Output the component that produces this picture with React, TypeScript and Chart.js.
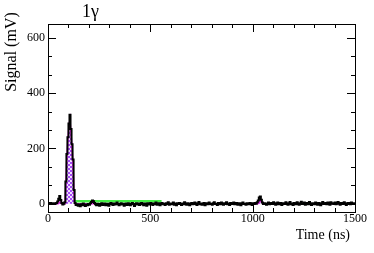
import React, { useEffect, useRef } from "react";
import { Chart, registerables } from "chart.js";

Chart.register(...registerables);

const TITLE = "1γ";
const X_TITLE = "Time (ns)";
const Y_TITLE = "Signal (mV)";
const X_MIN = 0;
const X_MAX = 1500;
const Y_MIN = -30;
const Y_MAX = 650;
const BIN_WIDTH = 5;

// Measured waveform (black histogram), 5 ns bins from 0 to 1500 ns
const signal: number[] = [
  2, 0, 3, 1, -1, 2, 0, 1, 3, 8, 18, 28, 13, 3, -3, 0, 5, 80, 180, 240,
  290, 322, 270, 215, 160, 50, 3, -5, -2, -7, -3, -9, -2, -6, 1, -4, -8, -3, -6, -1,
  -4, 2, 6, 12, 9, 3, -2, -6, 0, -3, -7, -1, 2, -5, -2, 1, -6, -3, 0, -7,
  -2, 3, -1, -5, 1, -3, 0, 4, -2, -6, -1, 2, -3, 0, -7, -2, 1, -5, 2, -1,
  -6, 0, 3, -2, -8, -1, 2, -3, 1, -5, 0, 3, -2, -6, 1, -1, -7, 2, -3, 0,
  3, -2, -5, 1, -1, 4, -4, 0, 2, -6, -1, 3, -2, 0, -5, 2, -1, 5, -4, 1,
  -2, 0, 4, -4, 1, -6, 2, -1, 3, 0, -5, 1, -2, 5, -1, -4, 2, 0, -6, 1,
  3, -2, 0, 4, -1, -5, 2, 6, -2, 1, -4, 0, 3, -6, 1, 2, -2, 4, -1, 0,
  -4, 2, 5, -1, 0, -5, 3, 1, -2, 4, 0, -4, 2, -1, 5, -2, 1, -5, 3, 0,
  -1, 4, -2, 1, 3, -4, 0, 2, -6, 1, 4, -1, 0, -4, 2, 1, -2, 3, 0, -5,
  2, -1, 3, 0, 5, 12, 22, 26, 14, 4, -1, 2, 0, -4, 1, 4, -2, 0, 3, -1,
  5, 2, -4, 1, 4, -2, 0, 3, -5, 1, 2, -1, 5, 0, -4, 2, 6, -2, 1, -5,
  3, 0, -2, 5, 1, -4, 2, 7, -1, 0, 4, -4, 1, 3, -2, 6, 0, -5, 2, 1,
  -2, 4, 0, -4, 3, 1, -6, 2, 6, -1, 0, 3, -2, 4, 1, -4, 5, 0, 2, -1,
  4, -2, 1, 6, 0, -4, 3, 1, -1, 5, 2, -5, 0, 3, 1, -2, 4, 0, 2, -1,
];

// Fitted pulse (magenta, hatched)
const fitTimes: number[] = [0, 50, 55, 60, 65, 83, 87, 92, 97, 102, 107, 112, 117, 122, 127, 131, 1025, 1033, 1038, 1043, 1050, 1500];
const fitValues: number[] = [0, 0, 4, 7, 0, 0, 65, 165, 230, 280, 305, 260, 205, 145, 40, 0, 0, 6, 10, 6, 0, 0];

// Baseline estimate (green)
const baseTimes: number[] = [125, 555];
const baseValues: number[] = [9, 9];

export default function App() {
  const ref = useRef<HTMLCanvasElement | null>(null);

  useEffect(() => {
    const canvas = ref.current;
    if (!canvas) return;

    const pc = document.createElement("canvas");
    pc.width = 4;
    pc.height = 4;
    const pctx = pc.getContext("2d")!;
    pctx.fillStyle = "#f2dcff";
    pctx.fillRect(0, 0, 4, 4);
    pctx.fillStyle = "#a54cf5";
    pctx.fillRect(0, 0, 2, 2);
    pctx.fillRect(2, 2, 2, 2);
    const hatch = pctx.createPattern(pc, "repeat")!;

    const signalPts = signal.map((v, i) => ({ x: i * BIN_WIDTH + BIN_WIDTH / 2, y: v }));
    const fitPts = fitTimes.map((t, i) => ({ x: t, y: fitValues[i] }));
    const basePts = baseTimes.map((t, i) => ({ x: t, y: baseValues[i] }));

    const serif = "'Liberation Serif', 'Times New Roman', serif";

    const isMajor = (v: number, m: number) => Math.abs(v / m - Math.round(v / m)) < 1e-6;

    const framePlugin = {
      id: "rootFrame",
      afterDatasetsDraw(chart: any) {
        const { ctx, chartArea: a, scales } = chart;
        ctx.save();
        ctx.strokeStyle = "#000";
        ctx.lineWidth = 1;
        ctx.strokeRect(Math.round(a.left) + 0.5, Math.round(a.top) + 0.5, Math.round(a.right - a.left), Math.round(a.bottom - a.top));
        ctx.beginPath();
        for (const t of scales.x.ticks) {
          const px = Math.round(scales.x.getPixelForValue(t.value)) + 0.5;
          const len = isMajor(t.value, 500) ? 8 : 4;
          ctx.moveTo(px, a.bottom);
          ctx.lineTo(px, a.bottom - len);
          ctx.moveTo(px, a.top);
          ctx.lineTo(px, a.top + len);
        }
        for (const t of scales.y.ticks) {
          const py = Math.round(scales.y.getPixelForValue(t.value)) + 0.5;
          const len = isMajor(t.value, 200) ? 8 : 4;
          ctx.moveTo(a.left, py);
          ctx.lineTo(a.left + len, py);
          ctx.moveTo(a.right, py);
          ctx.lineTo(a.right - len, py);
        }
        ctx.stroke();
        ctx.fillStyle = "#000";
        ctx.font = `18px ${serif}`;
        ctx.textAlign = "left";
        ctx.textBaseline = "alphabetic";
        ctx.fillText(TITLE, 82, 17);
        ctx.font = `14px ${serif}`;
        ctx.textAlign = "right";
        ctx.textBaseline = "middle";
        ctx.fillText(X_TITLE, a.right - 5, 235);
        ctx.save();
        ctx.translate(12, 52);
        ctx.rotate(-Math.PI / 2);
        ctx.font = `16px ${serif}`;
        ctx.textAlign = "center";
        ctx.fillText(Y_TITLE, 0, 0);
        ctx.restore();
        ctx.restore();
      },
    };

    const chart = new Chart(canvas, {
      type: "line",
      data: {
        datasets: [
          {
            data: signalPts,
            borderColor: "#000",
            borderWidth: 2,
            pointRadius: 0,
            stepped: "middle",
            fill: false,
          },
          {
            data: fitPts,
            borderColor: "#e020e0",
            borderWidth: 1.5,
            pointRadius: 0,
            fill: "origin",
            backgroundColor: hatch,
            tension: 0,
          },
          {
            data: basePts,
            borderColor: "#44ee44",
            borderWidth: 2.5,
            pointRadius: 0,
            fill: false,
          },
        ],
      },
      options: {
        responsive: false,
        animation: false,
        events: [],
        layout: { padding: { top: 24, right: 19, left: 0, bottom: 0 } },
        plugins: { legend: { display: false }, tooltip: { enabled: false }, title: { display: false } },
        scales: {
          x: {
            type: "linear",
            min: X_MIN,
            max: X_MAX,
            afterFit: (s: any) => { s.height = 41; },
            grid: { display: false, drawTicks: false },
            border: { display: false },
            ticks: {
              stepSize: 100,
              maxTicksLimit: 20,
              autoSkip: false,
              includeBounds: false,
              maxRotation: 0,
              padding: 0,
              color: "#000",
              font: { family: serif, size: 12 },
              callback: (v: any) => (isMajor(Number(v), 500) ? String(Math.round(Number(v))) : ""),
            },
          },
          y: {
            type: "linear",
            min: Y_MIN,
            max: Y_MAX,
            afterFit: (s: any) => { s.width = 48; },
            grid: { display: false, drawTicks: false },
            border: { display: false },
            ticks: {
              stepSize: 200 / 3,
              maxTicksLimit: 20,
              autoSkip: false,
              includeBounds: false,
              padding: 3,
              color: "#000",
              font: { family: serif, size: 12 },
              callback: (v: any) => (isMajor(Number(v), 200) ? String(Math.round(Number(v))) : ""),
            },
          },
        },
      },
      plugins: [framePlugin],
    });

    return () => chart.destroy();
  }, []);

  return (
    <div style={{ position: "absolute", left: 0, top: 0, width: 374, height: 253, background: "#fff" }}>
      <canvas ref={ref} width={374} height={253} />
    </div>
  );
}
